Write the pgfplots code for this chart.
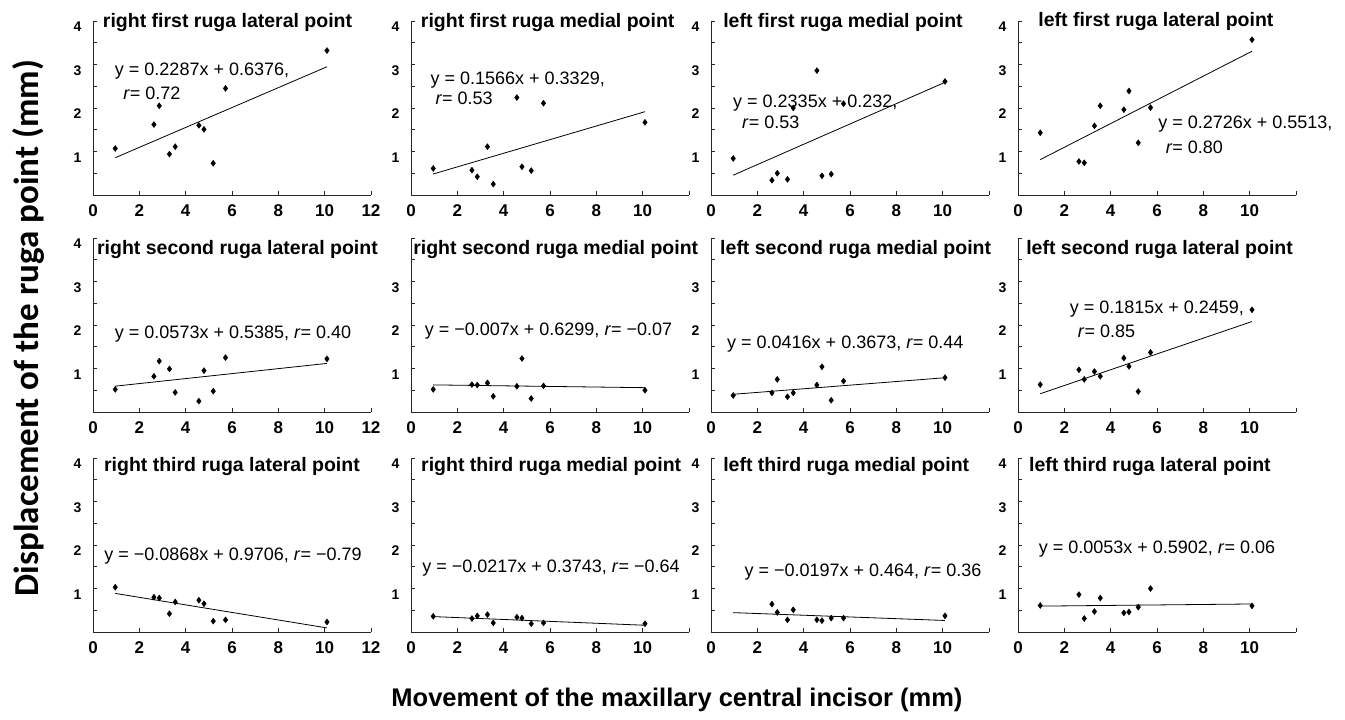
\documentclass[border=0pt]{standalone}
\usepackage{pgfplots}
\pgfplotsset{compat=1.18}
\usepackage{pgfplotstable}
\usepackage{fontspec}
\setmainfont{Liberation Sans}
\newfontfamily\labelfont{Carlito}

% displacement of each ruga point against incisor movement
\pgfplotstableread{
x     p1   p2   p3   p4   p5   p6   p7   p8   p9   p10  p11  p12
0.96  1.07 0.61 0.84 1.43 0.52 0.52 0.38 0.63 1.03 0.36 nan  0.61
2.63  1.62 0.57 0.34 0.77 0.82 0.63 0.44 0.97 0.80 0.31 0.64 0.86
2.86  2.05 0.42 0.50 0.74 1.17 0.62 0.75 0.75 0.78 0.37 0.45 0.31
3.30  0.94 1.11 0.36 1.59 0.99 0.67 0.35 0.93 0.42 0.40 0.28 0.47
3.55  1.11 0.25 2.00 2.05 0.45 0.36 0.44 0.82 0.69 0.21 0.51 0.78
4.57  1.60 2.24 2.86 1.96 0.25 0.59 0.62 1.24 0.73 0.34 0.28 0.44
4.79  1.51 0.65 0.44 2.39 0.95 1.23 1.04 1.05 0.65 0.32 0.26 0.46
5.19  0.73 0.56 0.48 1.20 0.48 0.31 0.27 0.47 0.25 0.19 0.32 0.57
5.72  2.45 2.11 2.10 2.01 1.25 0.60 0.71 1.37 0.28 0.21 0.32 1.00
10.1  3.32 1.67 2.61 3.57 1.22 0.50 0.79 2.35 0.23 0.19 0.37 0.60
}\pts

% end points of the fitted lines
\pgfplotstableread{
x     l1    l2    l3    l4    l5    l6    l7    l8    l9    l10   l11   l12
0.96  0.857 0.483 0.456 0.813 0.594 0.623 0.407 0.420 0.887 0.354 0.445 0.595
10.1  2.948 1.915 2.590 3.305 1.117 0.559 0.788 2.079 0.094 0.155 0.265 0.644
}\fits

\pgfplotsset{
  panel/.style={
    scale only axis, width=278pt, height=174pt,
    anchor=south west, clip=false,
    xmin=0, xmax=12, ymin=0, ymax=4,
    axis x line*=bottom, axis y line*=left,
    axis line style={-, line width=0.9pt, black!85},
    xtick={0,2,...,12}, ytick={0.5,1,...,4},
    xticklabels={0,2,4,6,8,10,},
    yticklabels={,1,,2,,3,,4},
    tick align=inside, major tick length=3.5pt,
    tick style={black!85, line width=0.8pt},
    xticklabel style={font=\bfseries\fontsize{17}{17}\selectfont, yshift=-6pt},
    yticklabel style={font=\bfseries\fontsize{14}{14}\selectfont, xshift=-8pt, yshift=-6pt},
  },
}
\tikzset{
  pts/.style={only marks, mark=diamond*, mark size=3pt, black},
  fit/.style={black, line width=0.8pt},
  ttl/.style={anchor=base west, inner sep=0pt, font=\bfseries\fontsize{19.5}{20}\selectfont},
  eq/.style={anchor=west, inner sep=0pt, font=\fontsize{18}{20}\selectfont},
}

\begin{document}
\begin{tikzpicture}
\path[use as bounding box] (0pt,0pt) rectangle (1345pt,720pt);

% row 1
\begin{axis}[panel, at={(93pt,525pt)}, xticklabels={0,2,4,6,8,10,12}]
\addplot[pts] table[x=x,y=p1]{\pts};
\addplot[fit] table[x=x,y=l1]{\fits};
\node[ttl] at (axis cs:0.42,3.85) {right first ruga lateral point};
\node[eq] at (axis cs:0.94,2.84) {y = 0.2287x + 0.6376,};
\node[eq] at (axis cs:1.30,2.34) {\textit{r}= 0.72};
\end{axis}

\begin{axis}[panel, at={(411pt,525pt)}]
\addplot[pts] table[x=x,y=p2]{\pts};
\addplot[fit] table[x=x,y=l2]{\fits};
\node[ttl] at (axis cs:0.42,3.85) {right first ruga medial point};
\node[eq] at (axis cs:0.84,2.64) {y = 0.1566x + 0.3329,};
\node[eq] at (axis cs:1.05,2.22) {\textit{r}= 0.53};
\end{axis}

\begin{axis}[panel, at={(711pt,525pt)}]
\addplot[pts] table[x=x,y=p3]{\pts};
\addplot[fit] table[x=x,y=l3]{\fits};
\node[ttl] at (axis cs:0.52,3.85) {left first ruga medial point};
\node[eq] at (axis cs:0.95,2.11) {y = 0.2335x + 0.232,};
\node[eq] at (axis cs:1.34,1.68) {\textit{r}= 0.53};
\end{axis}

\begin{axis}[panel, at={(1018pt,525pt)}]
\addplot[pts] table[x=x,y=p4]{\pts};
\addplot[fit] table[x=x,y=l4]{\fits};
\node[ttl] at (axis cs:0.87,3.87) {left first ruga lateral point};
\node[eq] at (axis cs:6.05,1.63) {y = 0.2726x + 0.5513,};
\node[eq] at (axis cs:6.37,1.10) {\textit{r}= 0.80};
\end{axis}

% row 2
\begin{axis}[panel, at={(93pt,308pt)}, xticklabels={0,2,4,6,8,10,12}]
\addplot[pts] table[x=x,y=p5]{\pts};
\addplot[fit] table[x=x,y=l5]{\fits};
\node[ttl] at (axis cs:0.17,3.61) {right second ruga lateral point};
\node[eq] at (axis cs:0.94,1.78) {y = 0.0573x + 0.5385, \textit{r}= 0.40};
\end{axis}

\begin{axis}[panel, at={(411pt,308pt)}, yticklabels={,1,,2,,3,,}]
\addplot[pts] table[x=x,y=p6]{\pts};
\addplot[fit] table[x=x,y=l6]{\fits};
\node[ttl] at (axis cs:0.09,3.61) {right second ruga medial point};
\node[eq] at (axis cs:0.59,1.86) {y = −0.007x + 0.6299, \textit{r}= −0.07};
\end{axis}

\begin{axis}[panel, at={(711pt,308pt)}, yticklabels={,1,,2,,3,,}]
\addplot[pts] table[x=x,y=p7]{\pts};
\addplot[fit] table[x=x,y=l7]{\fits};
\node[ttl] at (axis cs:0.39,3.61) {left second ruga medial point};
\node[eq] at (axis cs:0.69,1.56) {y = 0.0416x + 0.3673, \textit{r}= 0.44};
\end{axis}

\begin{axis}[panel, at={(1018pt,308pt)}, yticklabels={,1,,2,,3,,}]
\addplot[pts] table[x=x,y=p8]{\pts};
\addplot[fit] table[x=x,y=l8]{\fits};
\node[ttl] at (axis cs:0.35,3.61) {left second ruga lateral point};
\node[eq] at (axis cs:2.23,2.37) {y = 0.1815x + 0.2459,};
\node[eq] at (axis cs:2.58,1.85) {\textit{r}= 0.85};
\end{axis}

% row 3
\begin{axis}[panel, at={(93pt,88pt)}, xticklabels={0,2,4,6,8,10,12}]
\addplot[pts] table[x=x,y=p9]{\pts};
\addplot[fit] table[x=x,y=l9]{\fits};
\node[ttl] at (axis cs:0.47,3.69) {right third ruga lateral point};
\node[eq] at (axis cs:0.48,1.74) {y = −0.0868x + 0.9706, \textit{r}= −0.79};
\end{axis}

\begin{axis}[panel, at={(411pt,88pt)}]
\addplot[pts] table[x=x,y=p10]{\pts};
\addplot[fit] table[x=x,y=l10]{\fits};
\node[ttl] at (axis cs:0.43,3.69) {right third ruga medial point};
\node[eq] at (axis cs:0.48,1.47) {y = −0.0217x + 0.3743, \textit{r}= −0.64};
\end{axis}

\begin{axis}[panel, at={(711pt,88pt)}]
\addplot[pts] table[x=x,y=p11]{\pts};
\addplot[fit] table[x=x,y=l11]{\fits};
\node[ttl] at (axis cs:0.52,3.69) {left third ruga medial point};
\node[eq] at (axis cs:1.44,1.37) {y = −0.0197x + 0.464, \textit{r}= 0.36};
\end{axis}

\begin{axis}[panel, at={(1018pt,88pt)}]
\addplot[pts] table[x=x,y=p12]{\pts};
\addplot[fit] table[x=x,y=l12]{\fits};
\node[ttl] at (axis cs:0.47,3.69) {left third ruga lateral point};
\node[eq] at (axis cs:0.89,1.91) {y = 0.0053x + 0.5902, \textit{r}= 0.06};
\end{axis}

\node[font=\labelfont\bfseries\fontsize{35}{37}\selectfont, rotate=90] at (28pt,392pt) {Displacement of the ruga point (mm)};
\node[font=\bfseries\fontsize{25.5}{28}\selectfont] at (677pt,20pt) {Movement of the maxillary central incisor (mm)};
\end{tikzpicture}
\end{document}
